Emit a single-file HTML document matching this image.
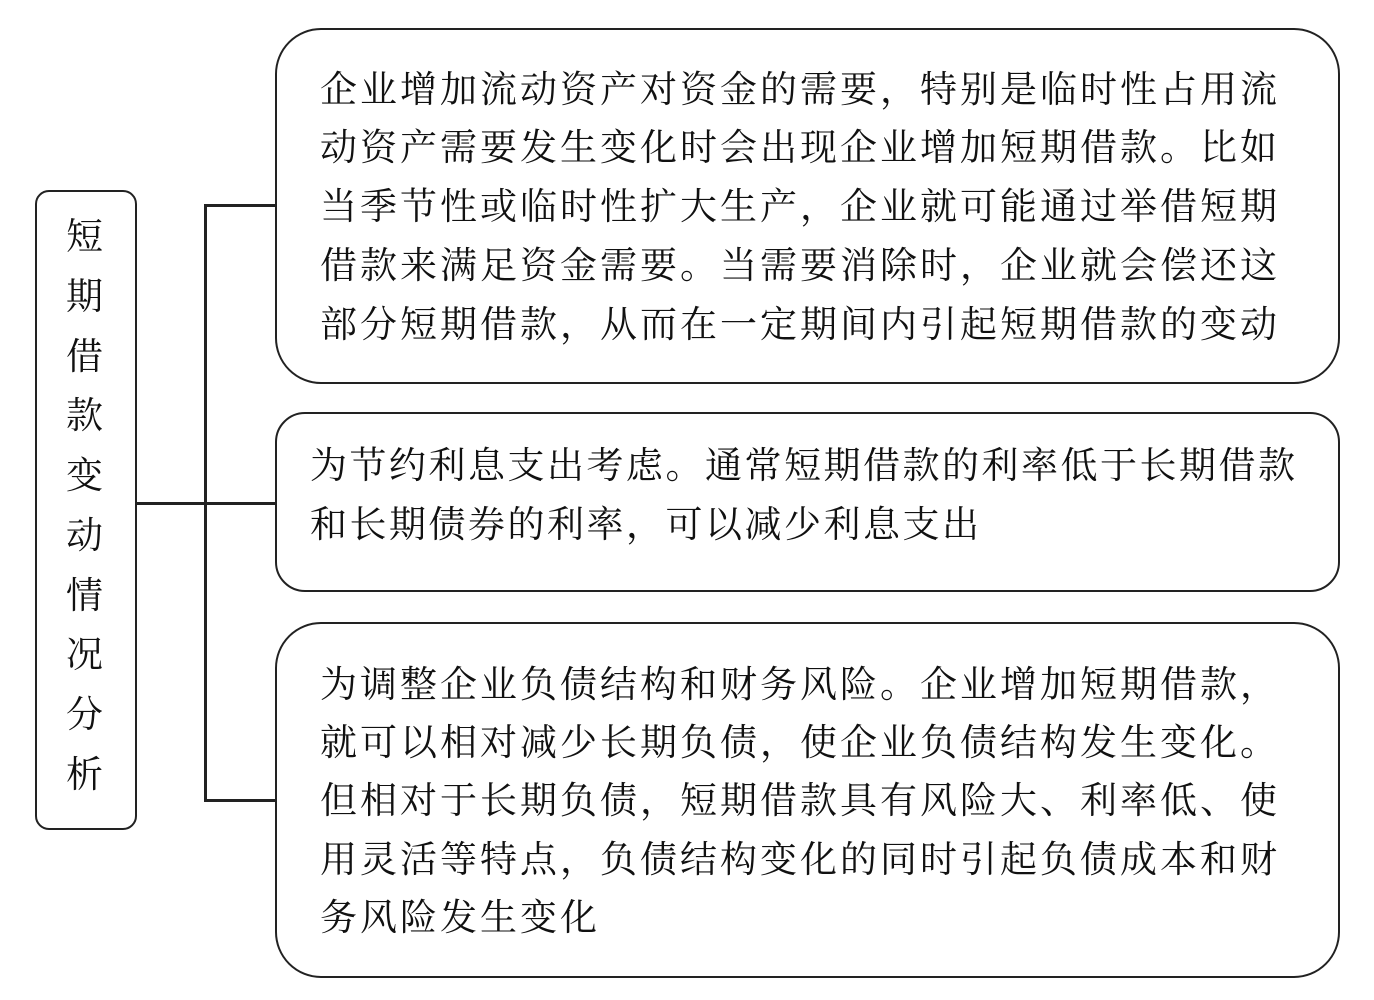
<!DOCTYPE html>
<html><head><meta charset="utf-8"><style>
body{margin:0;width:1374px;height:1000px;background:#fff;position:relative;overflow:hidden;font-family:"Liberation Serif","Noto Serif CJK SC",serif;color:#111}
.box{position:absolute;border:2.5px solid #222;box-sizing:border-box;background:#fff}
.l{position:absolute;font-size:37px;letter-spacing:3px;white-space:nowrap;line-height:1}
.v{position:absolute;left:35px;top:190px;width:102px;height:640px;border-radius:14px}
.vc{position:absolute;left:66px;font-size:37px;line-height:1}
.ln{position:absolute;background:#222}
</style></head><body>
<div class="box v"></div>
<div class="vc" style="top:219px">短</div>
<div class="vc" style="top:279px">期</div>
<div class="vc" style="top:339px">借</div>
<div class="vc" style="top:398px">款</div>
<div class="vc" style="top:458px">变</div>
<div class="vc" style="top:518px">动</div>
<div class="vc" style="top:578px">情</div>
<div class="vc" style="top:637px">况</div>
<div class="vc" style="top:697px">分</div>
<div class="vc" style="top:757px">析</div>

<div class="ln" style="left:137px;top:502px;width:69px;height:2.5px"></div>
<div class="ln" style="left:204px;top:204px;width:2.5px;height:597px"></div>
<div class="ln" style="left:204px;top:204px;width:72px;height:2.5px"></div>
<div class="ln" style="left:204px;top:502px;width:72px;height:2.5px"></div>
<div class="ln" style="left:204px;top:799px;width:72px;height:2.5px"></div>

<div class="box" style="left:275px;top:28px;width:1065px;height:356px;border-radius:46px"></div>
<div class="l" style="left:320px;top:72px">企业增加流动资产对资金的需要，特别是临时性占用流</div>
<div class="l" style="left:320px;top:130px">动资产需要发生变化时会出现企业增加短期借款。比如</div>
<div class="l" style="left:320px;top:189px">当季节性或临时性扩大生产，企业就可能通过举借短期</div>
<div class="l" style="left:320px;top:248px">借款来满足资金需要。当需要消除时，企业就会偿还这</div>
<div class="l" style="left:320px;top:307px">部分短期借款，从而在一定期间内引起短期借款的变动</div>

<div class="box" style="left:275px;top:412px;width:1065px;height:180px;border-radius:30px"></div>
<div class="l" style="left:310px;top:448px;letter-spacing:2.5px">为节约利息支出考虑。通常短期借款的利率低于长期借款</div>
<div class="l" style="left:310px;top:507px;letter-spacing:2.5px">和长期债券的利率，可以减少利息支出</div>

<div class="box" style="left:275px;top:622px;width:1065px;height:356px;border-radius:46px"></div>
<div class="l" style="left:320px;top:667px">为调整企业负债结构和财务风险。企业增加短期借款，</div>
<div class="l" style="left:320px;top:725px">就可以相对减少长期负债，使企业负债结构发生变化。</div>
<div class="l" style="left:320px;top:783px">但相对于长期负债，短期借款具有风险大、利率低、使</div>
<div class="l" style="left:320px;top:842px">用灵活等特点，负债结构变化的同时引起负债成本和财</div>
<div class="l" style="left:320px;top:900px">务风险发生变化</div>
</body></html>
